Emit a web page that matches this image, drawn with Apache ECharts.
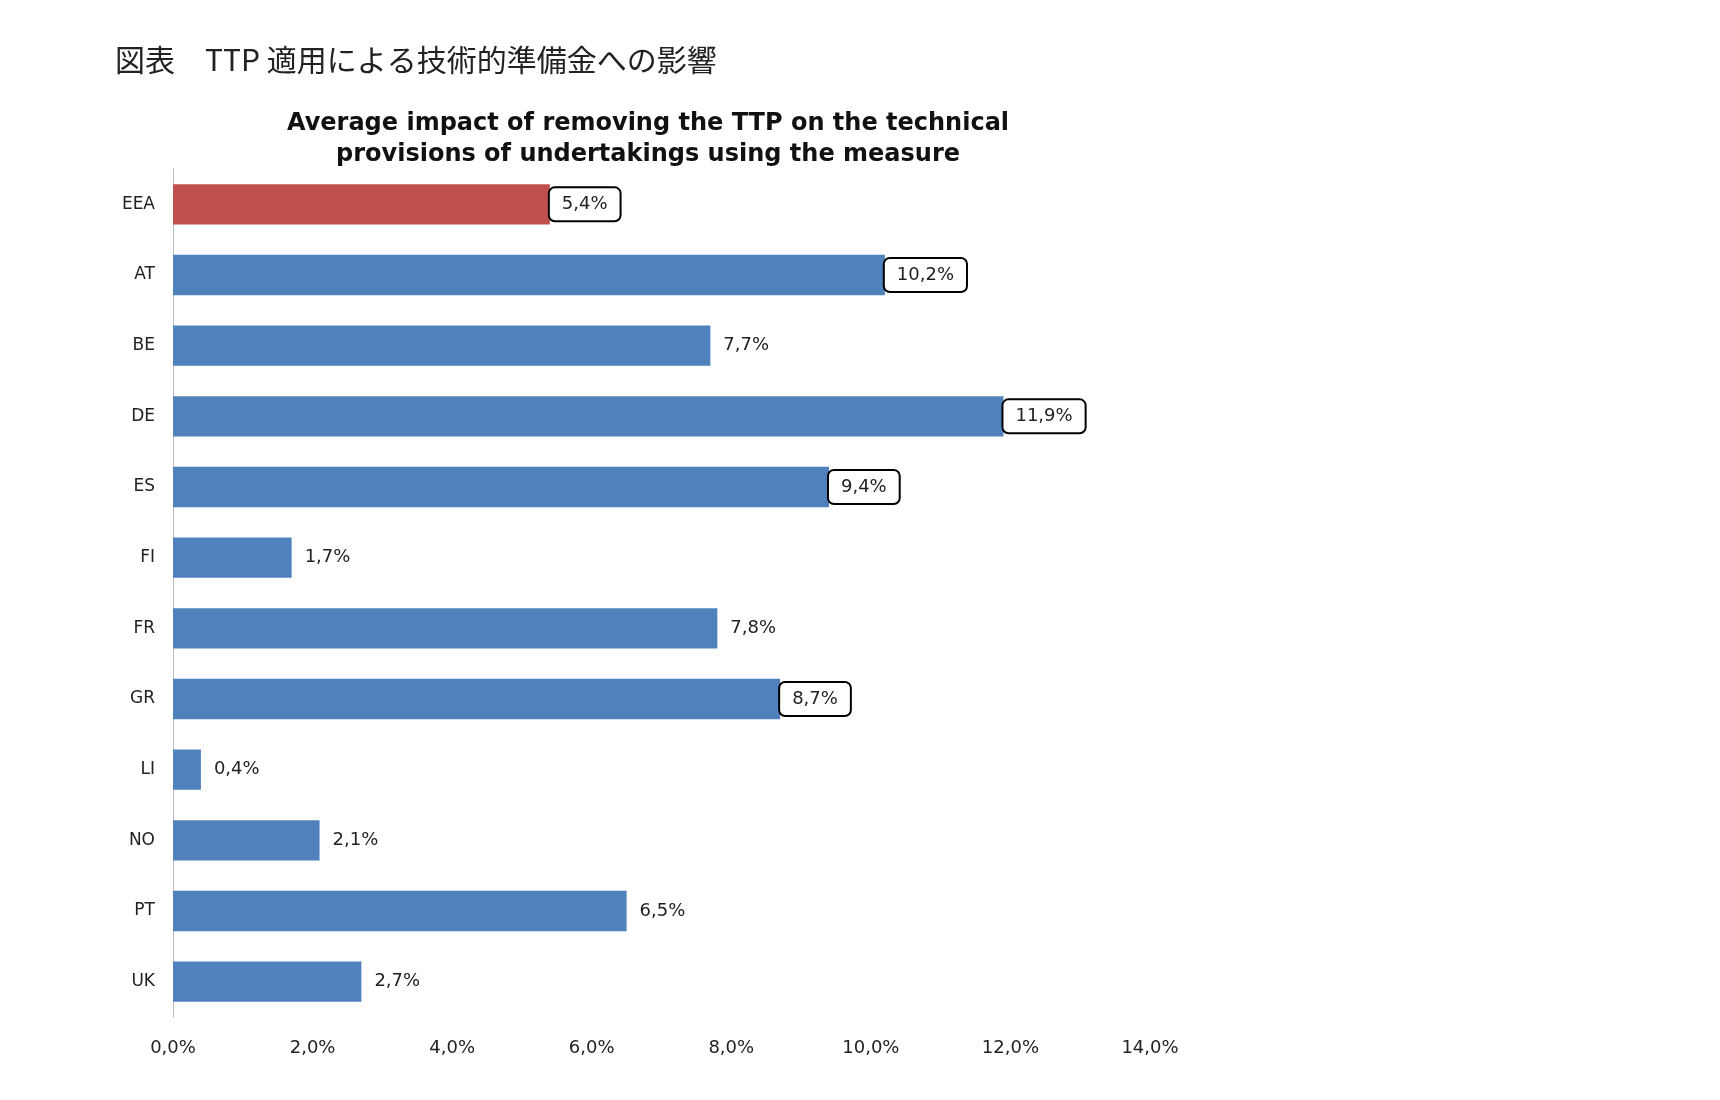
<!DOCTYPE html>
<html>
<head>
<meta charset="utf-8">
<script src="https://cdn.jsdelivr.net/npm/echarts@6/dist/echarts.min.js"></script>
<style>html,body{margin:0;background:#fff}#chart-container{width:1720px;height:1100px}</style>
</head>
<body>
<div id="chart-container"></div>
<script>
const categories = ["EEA", "AT", "BE", "DE", "ES", "FI", "FR", "GR", "LI", "NO", "PT", "UK"];
const values = [5.4, 10.2, 7.7, 11.9, 9.4, 1.7, 7.8, 8.7, 0.4, 2.1, 6.5, 2.7];
const boxed = ["EEA", "AT", "DE", "ES", "GR"];

const fmt = (v) => v.toFixed(1).replace(".", ",") + "%";

const dom = document.getElementById("chart-container");
const myChart = echarts.init(dom, null, { renderer: "canvas" });

const option = {
  backgroundColor: "#fff",
  title: [
    {
      text: "図表\u3000TTP 適用による技術的準備金への影響",
      left: 110,
      top: 40,
      textStyle: { fontFamily: "Noto Sans CJK JP", fontWeight: "normal", fontSize: 30, color: "#222" },
    },
    {
      text: "Average impact of removing the TTP on the technical\nprovisions of undertakings using the measure",
      left: 643,
      textAlign: "center",
      top: 103,
      textStyle: { fontFamily: "DejaVu Sans", fontWeight: "bold", fontSize: 24, lineHeight: 31, color: "#111" },
    },
  ],
  grid: { left: 173, right: 570, top: 169, height: 848 },
  xAxis: {
    type: "value",
    min: 0,
    max: 14,
    interval: 2,
    axisLine: { show: false },
    axisTick: { show: false },
    splitLine: { show: false },
    axisLabel: { formatter: fmt, fontFamily: "DejaVu Sans", fontSize: 18, color: "#222", margin: 22 },
  },
  yAxis: {
    type: "category",
    inverse: true,
    data: categories,
    axisLine: { lineStyle: { color: "#bbb" } },
    axisTick: { show: false },
    axisLabel: { fontFamily: "DejaVu Sans", fontSize: 17, color: "#222", margin: 18 },
  },
  series: [
    {
      type: "bar",
      barCategoryGap: "43%",
      data: values.map((v, i) => ({
        value: v,
        itemStyle: { color: i === 0 ? "#C0504D" : "#4F81BD" },
        label: boxed.includes(categories[i])
          ? { borderColor: "#000", borderWidth: 2, borderRadius: 5, backgroundColor: "#fff", padding: [8, 12, 6, 12], distance: 0 }
          : {},
      })),
      label: {
        show: true,
        position: "right",
        distance: 13,
        formatter: (p) => fmt(p.value),
        fontFamily: "DejaVu Sans",
        fontSize: 18,
        color: "#222",
      },
    },
  ],
};

myChart.setOption(option);
window.addEventListener("resize", myChart.resize);
</script>
</body>
</html>
